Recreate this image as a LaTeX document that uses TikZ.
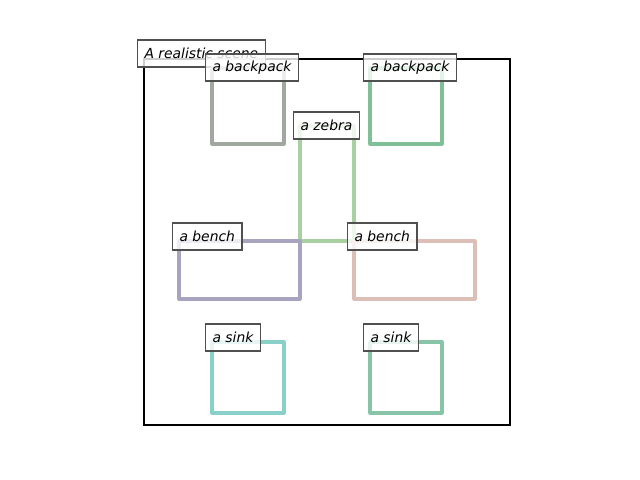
\documentclass[tikz,border=0pt]{standalone}
\usepackage{fontspec}
\setmainfont{DejaVu Sans}
\definecolor{backpackA}{RGB}{160,168,160}
\definecolor{backpackB}{RGB}{128,192,152}
\definecolor{zebraC}{RGB}{168,208,160}
\definecolor{benchA}{RGB}{168,164,192}
\definecolor{benchB}{RGB}{220,192,184}
\definecolor{sinkA}{RGB}{136,208,200}
\definecolor{sinkB}{RGB}{136,196,168}
\definecolor{tagedge}{RGB}{80,80,80}
\begin{document}
\begin{tikzpicture}[x=0.72pt, y=-0.72pt,
    objbox/.style={line width=2.3pt, line join=round},
    tag/.style={draw=tagedge, line width=0.8pt, fill=white, fill opacity=0.8, text opacity=1,
                font=\itshape\fontsize{10}{12}\selectfont, anchor=west,
                inner xsep=5pt, inner ysep=0pt, minimum height=19.4pt}]
                
                \useasboundingbox (0,0) rectangle (640,480);
                \draw [line width=1.8pt] (144,59) rectangle (510,425);
                \node [tag] (scene) at (137,53.5) {A realistic scene};
                \draw [objbox,backpackA] (212,68) rectangle (284,144);
                \draw [objbox,backpackB] (370,68) rectangle (442,144);
                \draw [objbox,zebraC] (300,126) rectangle (354,241);
                \draw [objbox,benchA] (179,241) rectangle (300,299);
                \draw [objbox,benchB] (354,241) rectangle (475,299);
                \draw [objbox,sinkA] (212,342) rectangle (284,413);
                \draw [objbox,sinkB] (370,342) rectangle (442,413);
                \node [tag] (backpack one) at (205,67.5) {a backpack};
                \node [tag] (backpack two) at (363,67.5) {a backpack};
                \node [tag] (zebra) at (293,125.5) {a zebra};
                \node [tag] (bench one) at (172,236.5) {a bench};
                \node [tag] (bench two) at (347,236.5) {a bench};
                \node [tag] (sink one) at (205,337.5) {a sink};
                \node [tag] (sink two) at (363,337.5) {a sink};
            \end{tikzpicture}
\end{document}
